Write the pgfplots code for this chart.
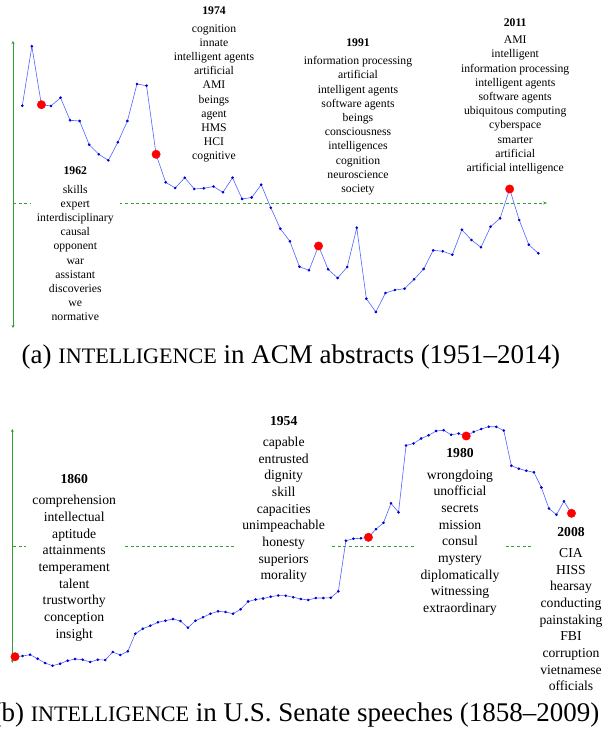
\documentclass[border=0pt]{standalone}
\usepackage{fontspec}
\setmainfont{Liberation Serif}
\usepackage{pgfplots}
\pgfplotsset{compat=1.18}
\usetikzlibrary{arrows.meta}
\definecolor{axgreen}{RGB}{50,160,50}
\definecolor{lineblue}{RGB}{80,100,255}
\definecolor{markblue}{RGB}{0,0,210}
\tikzset{
  wordsA/.style={fill=white, inner xsep=6pt, inner ysep=2pt, align=center, anchor=north, font=\fontsize{11.7}{14.2}\selectfont},
  wordsB/.style={fill=white, inner xsep=6pt, inner ysep=2pt, align=center, anchor=north, font=\fontsize{13.66}{16.66}\selectfont},
  axarrow/.style={axgreen, line width=0.7pt},
  axdash/.style={axgreen, line width=0.6pt, dash pattern=on 3pt off 2.6pt}
}
\pgfplotsset{
  series/.style={lineblue, line width=0.6pt, mark=*, mark size=1pt, mark options={draw=markblue, fill=markblue, solid}},
  hits/.style={only marks, mark=*, mark size=4.2pt, mark options={draw=red, fill=red}}
}
\begin{document}
\begin{tikzpicture}
\useasboundingbox (0pt,0pt) rectangle (602pt,-735pt);
% ---------- panel (a) decorations ----------
\draw[axarrow, {Stealth[length=3pt,width=3pt]}-{Stealth[length=3pt,width=3pt]}] (13pt,-328pt) -- (13pt,-41pt);
\draw[axdash, -{Stealth[length=4pt,width=3pt]}] (13pt,-203pt) -- (547pt,-203pt);
\node[wordsA] at (75.3pt,-165pt) {\textbf{1962}\\[4pt] skills\\ expert\\ interdisciplinary\\ causal\\ opponent\\ war\\ assistant\\ discoveries\\ we\\ normative};
\node[wordsA] at (214pt,-5.05pt) {\textbf{1974}\\[3pt] cognition\\ innate\\ intelligent agents\\ artificial\\ AMI\\ beings\\ agent\\ HMS\\ HCI\\ cognitive};
\node[wordsA] at (358pt,-37.05pt) {\textbf{1991}\\[3.5pt] information processing\\ artificial\\ intelligent agents\\ software agents\\ beings\\ consciousness\\ intelligences\\ cognition\\ neuroscience\\ society};
\node[wordsA] at (515.2pt,-16.05pt) {\textbf{2011}\\[3.5pt] AMI\\ intelligent\\ information processing\\ intelligent agents\\ software agents\\ ubiquitous computing\\ cyberspace\\ smarter\\ artificial\\ artificial intelligence};
\node[anchor=base, font=\fontsize{27}{32}\selectfont] at (291pt,-363pt) {(a) {\fontsize{22.1}{26}\selectfont INTELLIGENCE} in ACM abstracts (1951--2014)};
% ---------- panel (b) decorations ----------
\draw[axarrow, {Stealth[length=3pt,width=3pt]}-{Stealth[length=3pt,width=3pt]}] (12.3pt,-663pt) -- (12.3pt,-429pt);
\draw[axdash, -{Stealth[length=4pt,width=3pt]}] (13pt,-546pt) -- (547pt,-546pt);
\node[wordsB] at (74.2pt,-472.4pt) {\textbf{1860}\\[4.4pt] comprehension\\ intellectual\\ aptitude\\ attainments\\ temperament\\ talent\\ trustworthy\\ conception\\ insight};
\node[wordsB] at (283.7pt,-414.1pt) {\textbf{1954}\\[4.4pt] capable\\ entrusted\\ dignity\\ skill\\ capacities\\ unimpeachable\\ honesty\\ superiors\\ morality};
\node[wordsB] at (460pt,-446.7pt) {\textbf{1980}\\[4.6pt] wrongdoing\\ unofficial\\ secrets\\ mission\\ consul\\ mystery\\ diplomatically\\ witnessing\\ extraordinary};
\node[wordsB] at (571pt,-525.1pt) {\textbf{2008}\\[4.4pt] CIA\\ HISS\\ hearsay\\ conducting\\ painstaking\\ FBI\\ corruption\\ vietnamese\\ officials};
\node[anchor=base, font=\fontsize{27}{32}\selectfont] at (296pt,-721pt) {(b) {\fontsize{22.1}{26}\selectfont INTELLIGENCE} in U.S. Senate speeches (1858--2009)};
% ---------- panel (a) data ----------
\begin{axis}[at={(3.19pt,-333pt)}, anchor=south west, scale only axis,
  width=554.25pt, height=300pt, xmin=1958, xmax=2016, ymin=-130, ymax=170,
  hide axis, clip=false]
\addplot[series] coordinates {
(1960,97.3) (1961,156.7) (1962,98.3) (1963,97) (1964,105.3) (1965,82.7)
(1966,82) (1967,58.3) (1968,48.7) (1969,42.7) (1970,60.7) (1971,82)
(1972,119) (1973,117.3) (1974,48.7) (1975,20.7) (1976,15) (1977,25.3)
(1978,14) (1979,14.7) (1980,16.5) (1981,10.7) (1982,25.3) (1983,4)
(1984,5.5) (1985,18.3) (1986,-4.7) (1987,-25.7) (1988,-38.3) (1989,-63.7)
(1990,-67.3) (1991,-43) (1992,-66.3) (1993,-75) (1994,-64) (1995,-24.7)
(1996,-95.7) (1997,-109) (1998,-90) (1999,-87) (2000,-85.7) (2001,-76.3)
(2002,-66) (2003,-47.3) (2004,-48.3) (2005,-51.7) (2006,-26.7) (2007,-37)
(2008,-44.3) (2009,-23.7) (2010,-15.3) (2011,14) (2012,-17) (2013,-41.7)
(2014,-50.3)};
\addplot[hits] coordinates {(1962,98.3) (1974,48.7) (1991,-43) (2011,14)};
\end{axis}
% ---------- panel (b) data ----------
\begin{axis}[at={(-0.04pt,-676pt)}, anchor=south west, scale only axis,
  width=586.56pt, height=260pt, xmin=1856, xmax=2012, ymin=-130, ymax=130,
  hide axis, clip=false]
\addplot[series] coordinates {
(1860,-110.7) (1862,-110) (1864,-108.7) (1866,-112.7) (1868,-117) (1870,-119.7)
(1872,-117.7) (1874,-114.7) (1876,-113) (1878,-113.7) (1880,-116) (1882,-113.7)
(1884,-114) (1886,-106) (1888,-109) (1890,-105.3) (1892,-87.7) (1894,-82.7)
(1896,-79.7) (1898,-76.3) (1900,-74.7) (1902,-73) (1904,-75) (1906,-81.7)
(1908,-74.7) (1910,-71.3) (1912,-67.7) (1914,-65.3) (1916,-66) (1918,-67.7)
(1920,-63.3) (1922,-55.5) (1924,-53.5) (1926,-52.5) (1928,-50.7) (1930,-49.5)
(1932,-49.7) (1934,-51.2) (1936,-53) (1938,-54) (1940,-52) (1942,-52)
(1944,-51.7) (1946,-45.3) (1948,5.3) (1950,7.3) (1952,7.7) (1954,8.7)
(1956,16.8) (1958,23.2) (1960,42.7) (1962,33.7) (1964,100.5) (1966,102.5)
(1968,107.5) (1970,110.7) (1972,115) (1974,115.8) (1976,111.2) (1978,112.5)
(1980,110) (1982,114.2) (1984,117) (1986,119.3) (1988,119.2) (1990,115.5)
(1992,80.3) (1994,77.3) (1996,75.3) (1998,73.7) (2000,58.5) (2002,37.5)
(2004,31.3) (2006,44.7) (2008,32.7)};
\addplot[hits] coordinates {(1860,-110.7) (1954,8.7) (1980,110) (2008,32.7)};
\end{axis}
\end{tikzpicture}
\end{document}
